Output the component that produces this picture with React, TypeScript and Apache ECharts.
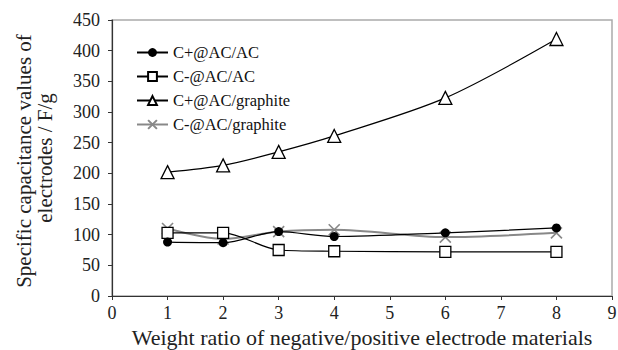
import React, { useEffect, useRef } from "react";
import * as echarts from "echarts";

const xValues = [1, 2, 3, 4, 6, 8];
const cPlusAcAc = [88, 87, 105, 97, 103, 111];
const cMinusAcAc = [103, 103, 75, 73, 72, 72];
const cPlusAcGraphite = [202, 213, 235, 261, 323, 419];
const cMinusAcGraphite = [110, 93, 105, 108, 96, 103];
const seriesNames = ["C+@AC/AC", "C-@AC/AC", "C+@AC/graphite", "C-@AC/graphite"];
const xAxisTitle = "Weight ratio of negative/positive electrode materials";
const yAxisTitle = ["Specific capacitance values of", "electrodes / F/g"];

const FONT = "Liberation Serif";

function pairs(vals: number[]) {
  return xValues.map((x, i) => [x, vals[i]]);
}

export default function App() {
  const ref = useRef<HTMLDivElement>(null);
  useEffect(() => {
    const chart = echarts.init(ref.current!, null, { renderer: "svg" });
    const crossPath = "path://M0,0L10,10M10,0L0,10";
    chart.setOption({
      animation: false,
      backgroundColor: "#fff",
      textStyle: { fontFamily: FONT },
      grid: {
        left: 112, top: 20, right: 6, bottom: 54,
        outerBoundsMode: "none", containLabel: false,
        show: true, borderColor: "#aaa", borderWidth: 1.5, backgroundColor: "transparent",
      },
      legend: {
        orient: "vertical",
        left: 131,
        top: 39,
        itemWidth: 31,
        itemHeight: 11,
        itemGap: 7,
        textStyle: { fontFamily: FONT, fontSize: 16.5, color: "#111" },
        data: seriesNames,
      },
      xAxis: {
        type: "value",
        min: 0,
        max: 9,
        interval: 1,
        axisLine: { show: true, lineStyle: { color: "#333", width: 1.2 } },
        axisTick: { show: true, length: 4, lineStyle: { color: "#333" } },
        splitLine: { show: false },
        axisLabel: { fontFamily: FONT, fontSize: 18, color: "#222", margin: 8 },
      },
      yAxis: {
        type: "value",
        min: 0,
        max: 450,
        interval: 50,
        axisLine: { show: true, lineStyle: { color: "#333", width: 1.2 } },
        axisTick: { show: true, length: 4, lineStyle: { color: "#333" } },
        splitLine: { show: false },
        axisLabel: { fontFamily: FONT, fontSize: 18, color: "#222", margin: 12 },
      },
      graphic: [
        {
          type: "text",
          x: 362,
          y: 337,
          style: { text: xAxisTitle, font: `22px "${FONT}"`, fill: "#222", align: "center", verticalAlign: "middle" },
        },
        {
          type: "text",
          x: 24,
          y: 161,
          rotation: Math.PI / 2,
          style: { text: yAxisTitle[0], font: `21px "${FONT}"`, fill: "#222", align: "center", verticalAlign: "middle" },
        },
        {
          type: "text",
          x: 45,
          y: 158,
          rotation: Math.PI / 2,
          style: { text: yAxisTitle[1], font: `21px "${FONT}"`, fill: "#222", align: "center", verticalAlign: "middle" },
        },
      ],
      series: [
        {
          name: seriesNames[0],
          type: "line",
          data: pairs(cPlusAcAc),
          smooth: 0.3,
          symbol: "circle",
          symbolSize: 9,
          itemStyle: { color: "#000" },
          lineStyle: { color: "#000", width: 1.2 },
          z: 4,
        },
        {
          name: seriesNames[1],
          type: "line",
          data: pairs(cMinusAcAc),
          smooth: 0.3,
          symbol: "rect",
          symbolSize: 11,
          itemStyle: { color: "#fff", borderColor: "#000", borderWidth: 1.3 },
          lineStyle: { color: "#000", width: 1.2 },
          z: 3,
        },
        {
          name: seriesNames[2],
          type: "line",
          data: pairs(cPlusAcGraphite),
          smooth: 0.3,
          symbol: "triangle",
          symbolSize: 13,
          itemStyle: { color: "#fff", borderColor: "#000", borderWidth: 1.3 },
          lineStyle: { color: "#000", width: 1.2 },
          z: 3,
        },
        {
          name: seriesNames[3],
          type: "line",
          data: pairs(cMinusAcGraphite),
          smooth: 0.3,
          symbol: crossPath,
          symbolSize: 11,
          itemStyle: { color: "#888", borderColor: "#888", borderWidth: 1.6 },
          lineStyle: { color: "#888", width: 2 },
          z: 2,
        },
      ],
    });
    return () => chart.dispose();
  }, []);
  return <div ref={ref} style={{ position: "absolute", left: 0, top: 0, width: 618, height: 350 }} />;
}
